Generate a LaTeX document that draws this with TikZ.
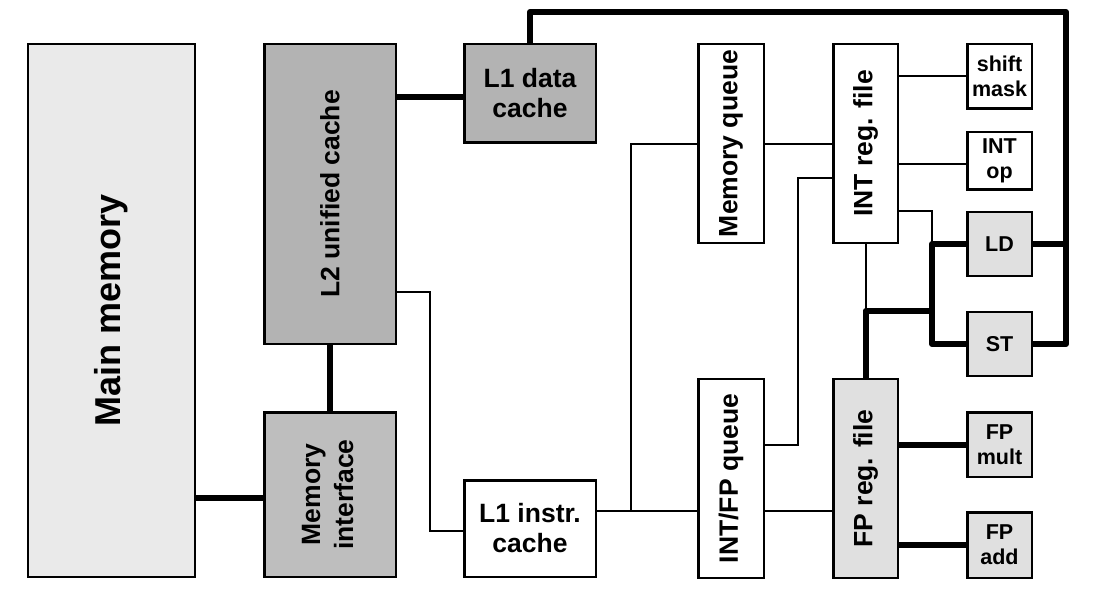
\documentclass[tikz,border=0pt]{standalone}
\usepackage{graphicx}
\usepackage{fontspec}
\setmainfont{Liberation Sans}
\definecolor{mmgray}{HTML}{EAEAEA}
\definecolor{dkgray}{HTML}{B3B3B3}
\definecolor{migray}{HTML}{BEBEBE}
\definecolor{ltgray}{HTML}{E0E0E0}
\newcommand{\rot}[1]{\rotatebox{90}{#1}}
\begin{document}
\begin{tikzpicture}[x=1bp,y=-1bp,
  blk/.style={draw, line width=2.5bp, inner sep=0pt, align=center, fill=white,
    font=\bfseries\fontsize{26.5bp}{30bp}\selectfont},
  smallblk/.style={blk, minimum width=64.5bp,
    font=\bfseries\fontsize{21.5bp}{25bp}\selectfont},
  thinc/.style={line width=2bp, line join=miter},
  thickc/.style={line width=6bp, line join=round}]
\useasboundingbox (0,0) rectangle (1105,598);

% left column
\node[blk, fill=mmgray, minimum width=166.5bp, minimum height=532.5bp,
  font=\bfseries\fontsize{36bp}{40bp}\selectfont] (mm) at (111.5,310.5) {\rot{Main memory}};
\node[blk, fill=dkgray, minimum width=131.5bp, minimum height=299.5bp] (l2) at (330,194) {\rot{L2 unified cache}};
\node[blk, fill=migray, minimum width=131.5bp, minimum height=164.5bp,
  font=\bfseries\fontsize{26.5bp}{33bp}\selectfont] (mi) at (330,494.5)
  {\rot{\begin{tabular}{@{}c@{}}Memory\\interface\end{tabular}}};
\node[blk, fill=dkgray, minimum width=131.5bp, minimum height=98.5bp] (l1d) at (530,93.5) {L1 data\\cache};
\node[blk, minimum width=131.5bp, minimum height=96.5bp] (l1i) at (530,528.5) {L1 instr.\\cache};

% queues and register files
\node[blk, minimum width=65.5bp, minimum height=198.5bp] (mq) at (731,143.5) {\rot{Memory queue}};
\node[blk, minimum width=64.5bp, minimum height=198.5bp] (irf) at (865.5,143.5) {\rot{INT reg. file}};
\node[blk, minimum width=65.5bp, minimum height=198.5bp] (q) at (731,478.5) {\rot{INT/FP queue}};
\node[blk, fill=ltgray, minimum width=64.5bp, minimum height=198.5bp] (frf) at (865.5,478.5) {\rot{FP reg. file}};

% functional units
\node[smallblk, minimum height=64.5bp] (sm) at (999.5,76.5) {shift\\mask};
\node[smallblk, minimum height=57.5bp] (iop) at (999.5,161) {INT\\op};
\node[smallblk, fill=ltgray, minimum height=63.5bp] (ld) at (999.5,244) {LD};
\node[smallblk, fill=ltgray, minimum height=63.5bp] (st) at (999.5,344) {ST};
\node[smallblk, fill=ltgray, minimum height=64.5bp] (fpm) at (999.5,444.5) {FP\\mult};
\node[smallblk, fill=ltgray, minimum height=65.5bp] (fpa) at (999.5,545) {FP\\add};

% junction coordinates
\coordinate (tr) at (1066,12);
\coordinate (jx) at (932,311);
\coordinate (a1) at (430,292);
\coordinate (a2) at (430,531);
\coordinate (b1) at (631,144);
\coordinate (b2) at (631,511);
\coordinate (c1) at (798,178);
\coordinate (c2) at (798,445);
\coordinate (d1) at (932,211);

% thick connectors
\draw[thickc] (mm.east |- 0,498) -- (mi.west |- 0,498);
\draw[thickc] (l2.south) -- (mi.north);
\draw[thickc] (l2.east |- 0,97) -- (l1d.west |- 0,97);
\draw[thickc] (l1d.north) |- (tr) |- (st.east);
\draw[thickc] (ld.east) -- (ld.east -| tr);
\draw[thickc] (ld.west) -- (ld.west -| jx) |- (st.west);
\draw[thickc] (frf.north) |- (jx);
\draw[thickc] (frf.east |- fpm.west) -- (fpm.west);
\draw[thickc] (frf.east |- fpa.west) -- (fpa.west);

% thin connectors
\draw[thinc] (l2.east |- a1) -- (a1) -- (a2) -- (l1i.west |- a2);
\draw[thinc] (l1i.east |- b2) -- (q.west |- b2);
\draw[thinc] (b2) -- (b1) -- (mq.west |- b1);
\draw[thinc] (mq.east |- b1) -- (irf.west |- b1);
\draw[thinc] (irf.west |- c1) -- (c1) -- (c2) -- (q.east |- c2);
\draw[thinc] (q.east |- b2) -- (frf.west |- b2);
\draw[thinc] (irf.east |- sm.west) -- (sm.west);
\draw[thinc] (irf.east |- 0,164) -- (iop.west |- 0,164);
\draw[thinc] (irf.east |- d1) -- (d1) -- (d1 |- ld.west);
\draw[thinc] (irf.south) -- (irf.south |- jx);
\end{tikzpicture}
\end{document}
